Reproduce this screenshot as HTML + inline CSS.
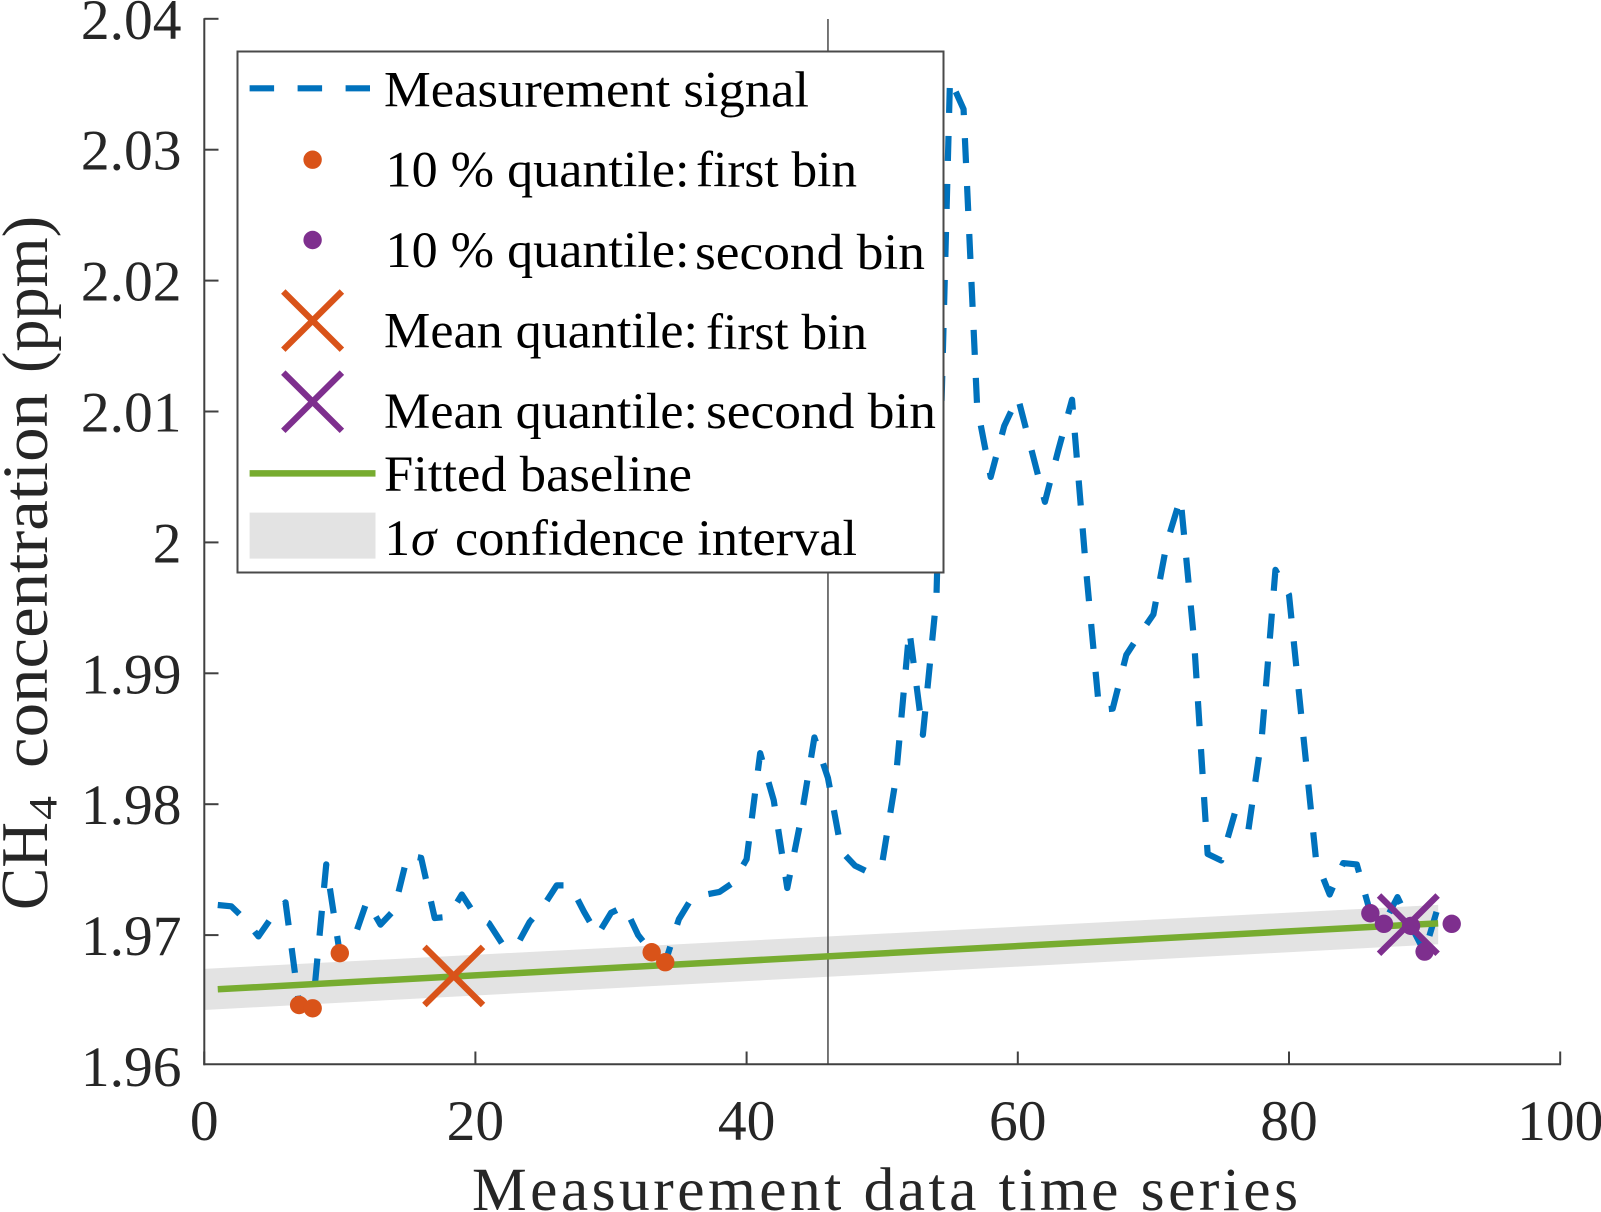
<!DOCTYPE html>
<html>
<head>
<meta charset="utf-8">
<title>CH4 concentration chart</title>
<style>
  html, body { margin: 0; padding: 0; background: #ffffff; }
  svg { display: block; }
  text { font-family: "Liberation Serif", "DejaVu Serif", serif; }
  .legend-text { font-size: 51px; fill: #000000; }
</style>
</head>
<body>
<svg id="chart" xmlns="http://www.w3.org/2000/svg" width="1601" height="1212" viewBox="0 0 1601 1212">
  <rect x="0" y="0" width="1601" height="1212" fill="#ffffff"/>
  <g id="plot"></g>
  <g id="axes"></g>

  <g>
    <rect x="237.5" y="51.5" width="706" height="521" fill="#ffffff" stroke="#4a4a4a" stroke-width="2"/>

    <g>
      <line x1="249.6" y1="88.3" x2="370" y2="88.3" stroke="#0072BD" stroke-width="6.2" stroke-dasharray="24.5 23.5"/>
      <text class="legend-text" x="384" y="106.6" textLength="425" lengthAdjust="spacingAndGlyphs">Measurement signal</text>
    </g>

    <g>
      <circle cx="312.6" cy="159.7" r="9.2" fill="#D95319"/>
      <text class="legend-text" x="385.5" y="186.4" textLength="304" lengthAdjust="spacingAndGlyphs">10 % quantile:</text>
      <text class="legend-text" x="696" y="186.4" textLength="161" lengthAdjust="spacingAndGlyphs">first bin</text>
    </g>

    <g>
      <circle cx="312.6" cy="240" r="9.2" fill="#7E2F8E"/>
      <text class="legend-text" x="385.5" y="267" textLength="304" lengthAdjust="spacingAndGlyphs">10 % quantile:</text>
      <text class="legend-text" x="695" y="269" textLength="230" lengthAdjust="spacingAndGlyphs">second bin</text>
    </g>

    <g>
      <path d="M283.3 291.5 L341.9 349.7 M341.9 291.5 L283.3 349.7" fill="none" stroke="#D95319" stroke-width="6.3"/>
      <text class="legend-text" x="384" y="347.6" textLength="314" lengthAdjust="spacingAndGlyphs">Mean quantile:</text>
      <text class="legend-text" x="706" y="349" textLength="161" lengthAdjust="spacingAndGlyphs">first bin</text>
    </g>

    <g>
      <path d="M283.3 372.6 L341.9 430.8 M341.9 372.6 L283.3 430.8" fill="none" stroke="#7E2F8E" stroke-width="6.3"/>
      <text class="legend-text" x="384" y="427.8" textLength="314" lengthAdjust="spacingAndGlyphs">Mean quantile:</text>
      <text class="legend-text" x="706" y="428" textLength="230" lengthAdjust="spacingAndGlyphs">second bin</text>
    </g>

    <g>
      <line x1="249.6" y1="473.4" x2="375.5" y2="473.4" stroke="#77AC30" stroke-width="6.5"/>
      <text class="legend-text" x="384" y="491" textLength="308" lengthAdjust="spacingAndGlyphs">Fitted baseline</text>
    </g>

    <g>
      <rect x="249.6" y="512.6" width="125.9" height="46" fill="#e3e3e3"/>
      <text class="legend-text" x="384.5" y="555">1</text>
      <text class="legend-text" x="411" y="555" font-style="italic">σ</text>
      <text class="legend-text" x="455" y="555" textLength="402" lengthAdjust="spacingAndGlyphs">confidence interval</text>
    </g>
  </g>

  <text x="472" y="1210" font-size="61.5" fill="#262626" textLength="826" lengthAdjust="spacing">Measurement data time series</text>

  <g>
    <text transform="translate(47 910) rotate(-90)" font-size="67" fill="#262626" textLength="88" lengthAdjust="spacingAndGlyphs">CH</text>
    <text transform="translate(56.7 820) rotate(-90)" font-size="40" fill="#262626" textLength="24" lengthAdjust="spacingAndGlyphs">4</text>
    <text transform="translate(47 768) rotate(-90)" font-size="65" fill="#262626" textLength="375" lengthAdjust="spacingAndGlyphs">concentration</text>
    <text transform="translate(47 373) rotate(-90)" font-size="65" fill="#262626" textLength="157" lengthAdjust="spacingAndGlyphs">(ppm)</text>
  </g>
</svg>

<script>
// Chart data
var signalValues = [
  1.9723, 1.9722, 1.9712, 1.9699, 1.9714, 1.9725, 1.9647, 1.9644, 1.9754, 1.9686,
  1.9696, 1.9726, 1.9708, 1.9719, 1.9761, 1.9759, 1.9713, 1.9714, 1.9731, 1.9715,
  1.9709, 1.9693, 1.9691, 1.9710, 1.9722, 1.9738, 1.9738, 1.9718, 1.9700, 1.9717,
  1.9722, 1.9700, 1.9687, 1.9679, 1.9712, 1.9729, 1.9731, 1.9733, 1.9740, 1.9758,
  1.9839, 1.9803, 1.9736, 1.9788, 1.9851, 1.9820, 1.9764, 1.9753, 1.9748, 1.9755,
  1.9819, 1.9933, 1.9853, 1.9958, 2.0354, 2.0331, 2.0104, 2.0050, 2.0089, 2.0111,
  2.0071, 2.0031, 2.0071, 2.0109, 1.9983, 1.9872, 1.9873, 1.9914, 1.9930, 1.9945,
  2.0000, 2.0034, 1.9925, 1.9762, 1.9757, 1.9793, 1.9780, 1.9852, 1.9979, 1.9960,
  1.9858, 1.9757, 1.9731, 1.9755, 1.9754, 1.9717, 1.9709, 1.9729, 1.9707, 1.9687,
  1.9722, 1.9709
];
var firstBinIndex = [7, 8, 10, 33, 34];
var firstBinValues = [1.96466, 1.96441, 1.96862, 1.96869, 1.96793];
var secondBinIndex = [86, 87, 89, 90, 92];
var secondBinValues = [1.97167, 1.97086, 1.9707, 1.96874, 1.97086];
var meanFirstBin = [18.4, 1.96688];
var meanSecondBin = [88.8, 1.9708];
var baselineIndex = [1, 91];
var baselineValues = [1.96586, 1.9709];
var bandIndex = [0, 91];
var bandUpper = [1.96742, 1.97231];
var bandLower = [1.96428, 1.9693];
var markerIndex = [46];
var xTickValues = [0, 20, 40, 60, 80, 100];
var xTickLabels = ['0', '20', '40', '60', '80', '100'];
var yTickValues = [1.96, 1.97, 1.98, 1.99, 2.00, 2.01, 2.02, 2.03, 2.04];
var yTickLabels = ['1.96', '1.97', '1.98', '1.99', '2', '2.01', '2.02', '2.03', '2.04'];

// Axis functions
function xScale(v) { return 204.2 + v * 13.56; }
function yScale(v) { return 1066 - (v - 1.96) * 13090; }

var NS = 'http://www.w3.org/2000/svg';
var plot = document.getElementById('plot');
var axes = document.getElementById('axes');

function make(tag, attrs, parent) {
  var el = document.createElementNS(NS, tag);
  for (var k in attrs) { el.setAttribute(k, attrs[k]); }
  parent.appendChild(el);
  return el;
}

// Confidence band
var bandPts = [];
for (var i = 0; i < bandIndex.length; i++) {
  bandPts.push(xScale(bandIndex[i]).toFixed(2) + ',' + yScale(bandUpper[i]).toFixed(2));
}
for (var j = bandIndex.length - 1; j >= 0; j--) {
  bandPts.push(xScale(bandIndex[j]).toFixed(2) + ',' + yScale(bandLower[j]).toFixed(2));
}
var band = make('polygon', { points: bandPts.join(' '), fill: '#e3e3e3' }, plot);



// Vertical marker line
for (var m = 0; m < markerIndex.length; m++) {
  var vline = make('line', {
    x1: xScale(markerIndex[m]), x2: xScale(markerIndex[m]),
    y1: 19, y2: 1064.3, stroke: '#555555', 'stroke-width': 1.6
  }, plot);
  
  
}

// Measurement signal
var sigPts = [];
for (var s = 0; s < signalValues.length; s++) {
  sigPts.push(xScale(s + 1).toFixed(2) + ',' + yScale(signalValues[s]).toFixed(2));
}
var signal = make('polyline', {
  points: sigPts.join(' '), fill: 'none', stroke: '#0072BD',
  'stroke-width': 6.2, 'stroke-dasharray': '25 23', 'stroke-linejoin': 'round'
}, plot);



// Fitted baseline
var basePts = [];
for (var b = 0; b < baselineIndex.length; b++) {
  basePts.push(xScale(baselineIndex[b]).toFixed(2) + ',' + yScale(baselineValues[b]).toFixed(2));
}
var baseLine = make('polyline', {
  points: basePts.join(' '), fill: 'none', stroke: '#77AC30', 'stroke-width': 6.5
}, plot);



// Quantile points
for (var f = 0; f < firstBinIndex.length; f++) {
  var dotA = make('circle', {
    cx: xScale(firstBinIndex[f]), cy: yScale(firstBinValues[f]), r: 9.2, fill: '#D95319'
  }, plot);
  
  
}
for (var g = 0; g < secondBinIndex.length; g++) {
  var dotB = make('circle', {
    cx: xScale(secondBinIndex[g]), cy: yScale(secondBinValues[g]), r: 9.2, fill: '#7E2F8E'
  }, plot);
  
  
}

// Mean crosses
function crossPath(p) {
  var cx = xScale(p[0]), cy = yScale(p[1]), a = 29.3, c = 29.1;
  return 'M' + (cx - a) + ' ' + (cy - c) + ' L' + (cx + a) + ' ' + (cy + c) +
         ' M' + (cx + a) + ' ' + (cy - c) + ' L' + (cx - a) + ' ' + (cy + c);
}
var crossA = make('path', { d: crossPath(meanFirstBin), fill: 'none', stroke: '#D95319', 'stroke-width': 6.3 }, plot);


var crossB = make('path', { d: crossPath(meanSecondBin), fill: 'none', stroke: '#7E2F8E', 'stroke-width': 6.3 }, plot);



// Axis lines
var yAxisLine = make('line', { x1: 204.3, x2: 204.3, y1: 18.3, y2: 1065.3, stroke: '#404040', 'stroke-width': 2 }, axes);


var xAxisLine = make('line', { x1: 203.3, x2: 1561, y1: 1064.3, y2: 1064.3, stroke: '#404040', 'stroke-width': 2 }, axes);



// X ticks and labels
for (var xi = 0; xi < xTickValues.length; xi++) {
  var xPos = xScale(xTickValues[xi]);
  var xTick = make('line', { x1: xPos, x2: xPos, y1: 1051.5, y2: 1064.3, stroke: '#404040', 'stroke-width': 2 }, axes);
  
  
  var xLab = make('text', { x: xPos, y: 1140, 'font-size': 57.5, fill: '#262626', 'text-anchor': 'middle' }, axes);
  
  
  xLab.textContent = xTickLabels[xi];
}

// Y ticks and labels
for (var yi = 0; yi < yTickValues.length; yi++) {
  var yPos = yScale(yTickValues[yi]);
  if (yi > 0) {
    var yTick = make('line', { x1: 204.3, x2: 218.5, y1: yPos, y2: yPos, stroke: '#404040', 'stroke-width': 2 }, axes);
    
    
  }
  var yLab = make('text', { x: 181.5, y: yPos + 20, 'font-size': 57.5, fill: '#262626', 'text-anchor': 'end' }, axes);
  
  
  yLab.textContent = yTickLabels[yi];
}
</script>
</body>
</html>
